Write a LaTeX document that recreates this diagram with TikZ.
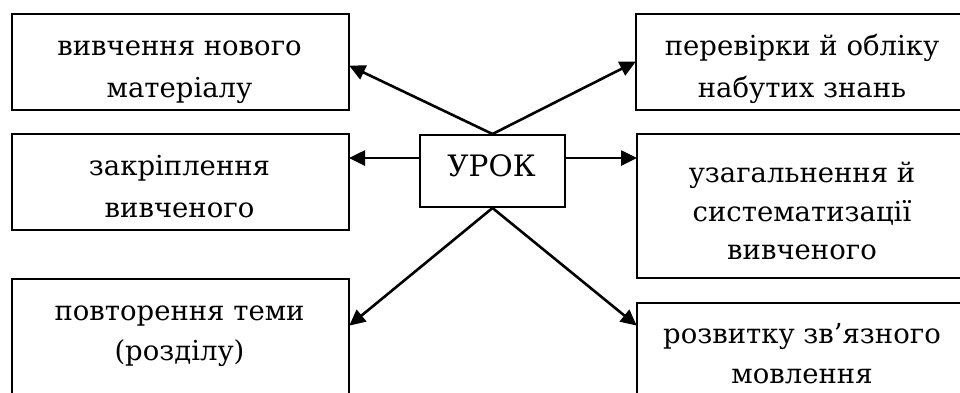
\documentclass[tikz,border=0pt]{standalone}
\usepackage{fontspec}
\setmainfont{DejaVu Serif}
\usetikzlibrary{arrows.meta}
\tikzset{
  box/.style={draw=black, line width=2pt, fill=none, inner sep=0pt, anchor=north west},
  ln/.style={anchor=base, inner sep=0pt, font=\fontsize{27.5}{32}\selectfont},
  hub/.style={ln, font=\fontsize{29.5}{34}\selectfont},
  arr/.style={draw=black, line width=2.6pt, -{Triangle[length=16pt,width=15pt]}, shorten >=-1pt}
}
\newcommand{\boxat}[5]{%
  \path (#2,#3) node[box, minimum width=#4pt, minimum height=#5pt] (#1) {};}
\begin{document}
\begin{tikzpicture}[x=1pt,y=-1pt]
  \useasboundingbox (0,0) rectangle (960,392);
  \clip (0,0) rectangle (960,392);

  % frames
  \boxat{vyvch}{11}{13}{337}{96}
  \boxat{perev}{635}{13}{334}{96}
  \boxat{zakr}{11}{133}{337}{96}
  \boxat{uzag}{636}{133}{333}{144}
  \boxat{povt}{11}{278}{337}{140}
  \boxat{rozv}{636}{302}{333}{140}
  \boxat{urok}{419}{134}{145}{72}

  % captions
  \node[ln] (vyvch1) at (179.5,55) {вивчення нового};
  \node[ln] (vyvch2) at (179.5,97) {матеріалу};
  \node[ln] (perev1) at (802,55) {перевірки й обліку};
  \node[ln] (perev2) at (802,97) {набутих знань};
  \node[ln] (zakr1) at (179.5,175) {закріплення};
  \node[ln] (zakr2) at (179.5,217) {вивченого};
  \node[ln] (uzag1) at (802,182) {узагальнення й};
  \node[ln] (uzag2) at (802,221) {систематизації};
  \node[ln] (uzag3) at (802,259) {вивченого};
  \node[ln] (povt1) at (179.5,320) {повторення теми};
  \node[ln] (povt2) at (179.5,360) {(розділу)};
  \node[ln] (rozv1) at (802,343) {розвитку зв’язного};
  \node[ln] (rozv2) at (802,383) {мовлення};
  \node[hub] (urokt) at (491.5,176) {УРОК};

  % connectors
  \draw[arr] (urok.north) -- ([yshift=-4pt]vyvch.east);
  \draw[arr] (urok.north) -- (perev.west);
  \draw[arr] ([yshift=13pt]urok.west) -- ([yshift=13pt]urok.west -| zakr.east);
  \draw[arr] ([yshift=13pt]urok.east) -- ([yshift=13pt]urok.east -| uzag.west);
  \draw[arr] (urok.south) -- ([yshift=-325pt]povt.north east |- 0,0);
  \draw[arr] (urok.south) -- ([yshift=-325pt]rozv.north west |- 0,0);
\end{tikzpicture}
\end{document}
